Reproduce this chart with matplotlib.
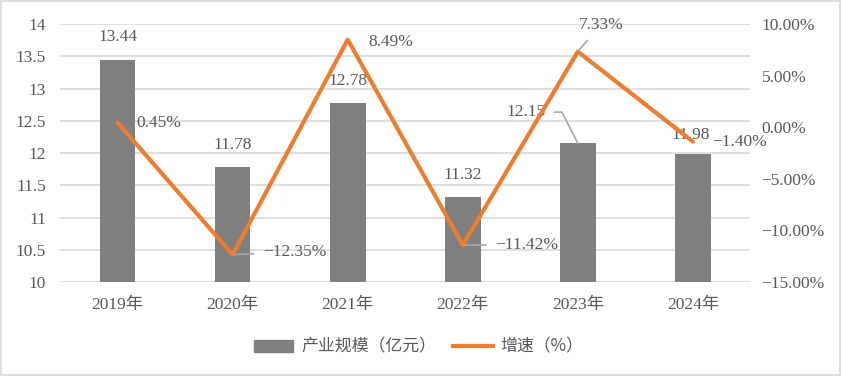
import matplotlib
matplotlib.use("Agg")
import matplotlib.pyplot as plt
from matplotlib.ticker import FuncFormatter, MultipleLocator
from matplotlib.patches import Rectangle, Patch
from matplotlib.lines import Line2D

years = ["2019年", "2020年", "2021年", "2022年", "2023年", "2024年"]
scale = [13.44, 11.78, 12.78, 11.32, 12.15, 11.98]
growth = [0.45, -12.35, 8.49, -11.42, 7.33, -1.40]
bar_name = "产业规模（亿元）"
line_name = "增速（%）"

NUM = ["Liberation Serif", "Noto Sans CJK SC"]
CJK = ["Noto Sans CJK SC", "DejaVu Sans"]
TXT = "#595959"
BAR = "#7f7f7f"
LINE = "#ed7d31"
GRID = "#d9d9d9"
LEAD = "#a6a6a6"
FS = 12.5

fig = plt.figure(figsize=(8.42, 3.76), dpi=100)
fig.patch.set_facecolor("white")
fig.patches.append(Rectangle((0.001, 0.002), 0.997, 0.995, transform=fig.transFigure,
                             fill=False, edgecolor="#d9d9d9", linewidth=1.2))
ax = fig.add_axes([0.0713, 0.25, 0.82, 0.686])
ax2 = ax.twinx()

x = list(range(len(years)))
ax.bar(x, scale, width=0.31, color=BAR, zorder=2)
ax.set_ylim(10, 14)
ax.set_xlim(-0.5, len(years) - 0.5)
ax.yaxis.set_major_locator(MultipleLocator(0.5))
ax.yaxis.set_major_formatter(FuncFormatter(lambda v, p: f"{v:g}"))
ax.grid(axis="y", color=GRID, linewidth=1.2, zorder=0)
ax.set_axisbelow(True)
ax.set_xticks(x)
ax.set_xticklabels(years)
for a in (ax, ax2):
    for s in a.spines.values():
        s.set_visible(False)
    a.tick_params(length=0, colors=TXT, labelsize=FS)
ax.tick_params(axis="x", pad=11)
ax.tick_params(axis="y", pad=10)
ax2.tick_params(axis="y", pad=8)
for lab in ax.get_xticklabels() + ax.get_yticklabels():
    lab.set_family(NUM)

ax2.plot(x, growth, color=LINE, linewidth=3, zorder=3, solid_capstyle="round")
ax2.set_ylim(-15, 10)
ax2.yaxis.set_major_locator(MultipleLocator(5))
ax2.yaxis.set_major_formatter(FuncFormatter(lambda v, p: f"{v:.2f}%".replace("-", "\u2212")))
for lab in ax2.get_yticklabels():
    lab.set_family(NUM)

# bar labels
bar_off = [(0, 16.5), (0, 16), (0, 16), (0, 16), None, (-2, 14)]
for i, v in enumerate(scale):
    if bar_off[i] is None:
        ax.annotate(f"{v:.2f}", xy=(i, v), xytext=(-37, 22.5), textcoords="offset points",
                    ha="center", va="center", color=TXT, fontsize=FS, family=NUM,
                    arrowprops=dict(arrowstyle="-", color=LEAD, lw=1.2,
                                    shrinkA=4, shrinkB=0, relpos=(1, 0.5),
                                    connectionstyle="angle,angleA=0,angleB=117,rad=0"))
    else:
        ax.annotate(f"{v:.2f}", xy=(i, v), xytext=bar_off[i], textcoords="offset points",
                    ha="center", va="center", color=TXT, fontsize=FS, family=NUM)

def pct(v):
    return f"{v:.2f}%".replace("-", "\u2212")

# line labels
specs = [
    dict(xytext=(13.5, 0), ha="left", leader=False),
    dict(xytext=(22, 2), ha="left", leader=True),
    dict(xytext=(15, -1.5), ha="left", leader=False),
    dict(xytext=(23.5, 0), ha="left", leader=True),
    dict(xytext=(16.5, 19.5), ha="center", leader=True),
    dict(xytext=(13.5, 0), ha="left", leader=False),
]
for i, v in enumerate(growth):
    sp = specs[i]
    kw = {}
    if sp["leader"]:
        kw["arrowprops"] = dict(arrowstyle="-", color=LEAD, lw=1.2, shrinkA=5, shrinkB=1)
    ax2.annotate(pct(v), xy=(i, v), xytext=sp["xytext"], textcoords="offset points",
                 ha=sp["ha"], va="center", color=TXT, fontsize=FS, family=NUM, zorder=5, **kw)

handles = [Patch(color=BAR), Line2D([0], [0], color=LINE, lw=3)]
leg = fig.legend(handles, [bar_name, line_name], loc="center", bbox_to_anchor=(0.497, 0.078),
                 ncol=2, frameon=False, prop={"family": CJK, "size": 12.2},
                 handlelength=2.35, handleheight=0.75, columnspacing=1.0, handletextpad=0.45)
for t in leg.get_texts():
    t.set_color(TXT)

fig.savefig("out.png", dpi=100)
